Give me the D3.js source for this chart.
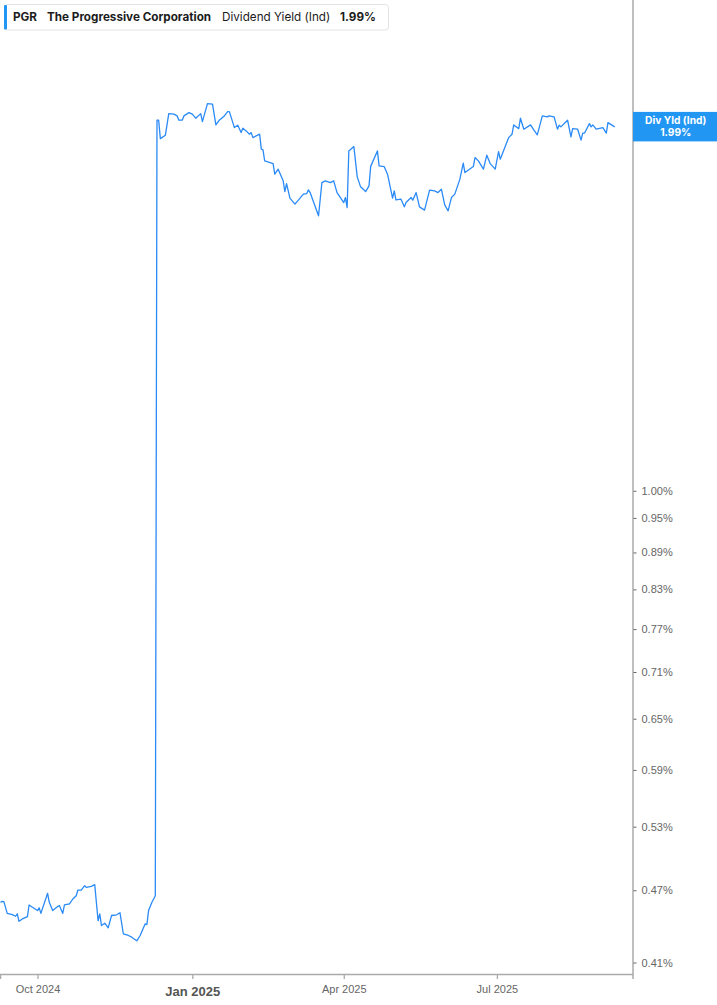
<!DOCTYPE html>
<html>
<head>
<meta charset="utf-8">
<script src="https://cdn.jsdelivr.net/npm/d3@7"></script>
<style>
  html, body { margin: 0; padding: 0; background: #fff; }
  svg { display: block; font-family: Inter, "Noto Sans", sans-serif; }
</style>
</head>
<body>
<div id="chart"></div>
<script>
// dates and dividend yield (%)
const dates = [
  "2024-09-09","2024-09-10","2024-09-11","2024-09-13","2024-09-16","2024-09-18","2024-09-19","2024-09-20",
  "2024-09-22","2024-09-25","2024-09-26","2024-09-28","2024-10-01","2024-10-02","2024-10-03","2024-10-07",
  "2024-10-08","2024-10-10","2024-10-13","2024-10-14","2024-10-16","2024-10-17","2024-10-20","2024-10-22",
  "2024-10-24","2024-10-25","2024-10-27","2024-10-29","2024-10-30","2024-11-02","2024-11-04","2024-11-06",
  "2024-11-07","2024-11-08","2024-11-10","2024-11-12","2024-11-14","2024-11-17","2024-11-19","2024-11-21",
  "2024-11-24","2024-11-26","2024-11-27","2024-11-29","2024-12-01","2024-12-04","2024-12-05","2024-12-06",
  "2024-12-08","2024-12-10","2024-12-11","2024-12-12","2024-12-13","2024-12-16","2024-12-18","2024-12-21",
  "2024-12-23","2024-12-24","2024-12-26","2024-12-27","2024-12-30","2025-01-01","2025-01-03","2025-01-06",
  "2025-01-07","2025-01-10","2025-01-13","2025-01-15","2025-01-17","2025-01-20","2025-01-22","2025-01-23",
  "2025-01-26","2025-01-28","2025-01-30","2025-01-31","2025-02-02","2025-02-04","2025-02-05","2025-02-06",
  "2025-02-10","2025-02-11","2025-02-12","2025-02-13","2025-02-18","2025-02-19","2025-02-21","2025-02-24",
  "2025-02-25","2025-02-26","2025-02-28","2025-03-03","2025-03-06","2025-03-08","2025-03-10","2025-03-11",
  "2025-03-12","2025-03-17","2025-03-19","2025-03-21","2025-03-24","2025-03-26","2025-03-28","2025-04-01",
  "2025-04-02","2025-04-03","2025-04-04","2025-04-07","2025-04-09","2025-04-11","2025-04-14","2025-04-16",
  "2025-04-17","2025-04-21","2025-04-22","2025-04-25","2025-04-27","2025-04-30","2025-05-01","2025-05-02",
  "2025-05-05","2025-05-07","2025-05-08","2025-05-11","2025-05-12","2025-05-14","2025-05-16","2025-05-19",
  "2025-05-22","2025-05-25","2025-05-27","2025-05-29","2025-05-31","2025-06-02","2025-06-04","2025-06-06",
  "2025-06-09","2025-06-11","2025-06-12","2025-06-17","2025-06-18","2025-06-20","2025-06-23","2025-06-25",
  "2025-06-27","2025-06-30","2025-07-02","2025-07-03","2025-07-08","2025-07-10","2025-07-11","2025-07-14",
  "2025-07-15","2025-07-17","2025-07-21","2025-07-23","2025-07-25","2025-07-28","2025-07-31","2025-08-01",
  "2025-08-04","2025-08-06","2025-08-07","2025-08-08","2025-08-12","2025-08-14","2025-08-15","2025-08-18",
  "2025-08-20","2025-08-21","2025-08-22","2025-08-25","2025-08-26","2025-08-27","2025-08-29","2025-09-02",
  "2025-09-04","2025-09-05","2025-09-09"
];

const yields = [
  0.4594,0.4603,0.4600,0.4499,0.4489,0.4475,0.4495,0.4432,
  0.4452,0.4472,0.4571,0.4551,0.4523,0.4546,0.4499,0.4673,
  0.4594,0.4523,0.4557,0.4566,0.4499,0.4571,0.4580,0.4623,
  0.4652,0.4702,0.4702,0.4741,0.4726,0.4735,0.4750,0.4437,
  0.4495,0.4397,0.4416,0.4378,0.4481,0.4487,0.4505,0.4329,
  0.4315,0.4301,0.4291,0.4272,0.4315,0.4411,0.4405,0.4523,
  0.4594,0.4652,2.0146,2.0146,1.9458,1.9584,2.0399,2.0376,
  2.0311,2.0146,2.0146,2.0311,2.0438,2.0376,2.0223,2.0399,
  2.0093,2.0788,2.0765,1.9968,2.0146,2.0311,2.0476,2.0476,
  1.9867,1.9957,1.9680,1.9844,1.9743,1.9621,1.9680,1.9495,
  1.9621,1.9073,1.9047,1.8655,1.8561,1.8193,1.8366,1.7964,
  1.7604,1.7873,1.7386,1.7190,1.7386,1.7518,1.7538,1.7661,
  1.7571,1.6815,1.7906,1.7964,1.7906,1.7964,1.7571,1.7242,
  1.7406,1.7080,1.9011,1.9166,1.8100,1.7762,1.7604,1.7795,
  1.8463,1.9011,1.8480,1.8456,1.8193,1.7386,1.7628,1.7331,
  1.7354,1.7103,1.7242,1.7406,1.7321,1.7571,1.7103,1.6997,
  1.7651,1.7628,1.7571,1.7684,1.7168,1.6974,1.7406,1.7518,
  1.8022,1.8575,1.8248,1.8456,1.8772,1.8655,1.8366,1.8858,
  1.8561,1.8366,1.8986,1.8716,1.9495,1.9621,1.9968,1.9829,
  2.0223,1.9807,1.9968,1.9769,1.9595,2.0311,2.0272,2.0311,
  2.0272,1.9807,1.9957,1.9893,2.0146,1.9521,1.9829,1.9807,
  1.9400,1.9658,1.9658,2.0017,1.9893,1.9968,1.9807,1.9867,
  1.9658,2.0055,1.9893
];

const yTicks = [1.00, 0.95, 0.89, 0.83, 0.77, 0.71, 0.65, 0.59, 0.53, 0.47, 0.41];
const xTickDates = ["2024-10-01", "2025-01-01", "2025-04-01", "2025-07-01"];
const xTickLabels = ["Oct 2024", "Jan 2025", "Apr 2025", "Jul 2025"];

const ticker = "PGR";
const company = "The Progressive Corporation";
const metric = "Dividend Yield (Ind)";
const lastValue = "1.99%";

const w = 717;
const h = 1005;
const plotRight = 632.5;
const plotBottom = 974;

const parse = d3.timeParse("%Y-%m-%d");
const data = dates.map((d, i) => ({ date: parse(d), v: yields[i] }));

const svg = d3.select("#chart")
  .append("svg")
  .attr("width", w)
  .attr("height", h);

const xScale = d3.scaleTime()
  .domain([new Date(2024, 8, 8, 17), new Date(2025, 8, 19, 14)])
  .range([0, plotRight]);

const yScale = d3.scaleLog()
  .domain([0.4012, 2.5285])
  .range([plotBottom, 0]);

// line
const line = d3.line()
  .x(d => xScale(d.date))
  .y(d => yScale(d.v));

svg.append("path")
  .datum(data)
  .attr("fill", "none")
  .attr("stroke", "#2a8af6")
  .attr("stroke-width", 1.3)
  .attr("stroke-linejoin", "round")
  .attr("d", line);

// bottom axis
const xAxis = d3.axisBottom(xScale)
  .tickValues(xTickDates.map(parse))
  .tickSize(5)
  .tickFormat((d, i) => xTickLabels[i]);

const gx = svg.append("g")
  .attr("transform", `translate(0, ${plotBottom})`)
  .call(xAxis);
gx.select(".domain").attr("stroke", "#aaa").attr("stroke-width", 1.5);
gx.selectAll(".tick line").attr("stroke", "#aaa").attr("stroke-width", 1.3);
gx.selectAll(".tick text")
  .attr("fill", "#666")
  .attr("font-size", 11)
  .attr("font-weight", 500)
  .attr("dy", "0.7em")
  .attr("y", 11);
gx.selectAll(".tick text")
  .filter((d, i) => i === 1)
  .attr("font-size", 13)
  .attr("font-weight", 700)
  .attr("fill", "#555")
  .attr("y", 13);

// right axis
const yAxis = d3.axisRight(yScale)
  .tickValues(yTicks)
  .tickSize(3)
  .tickFormat(d => d3.format(".2f")(d) + "%");

const gy = svg.append("g")
  .attr("transform", `translate(${plotRight}, 0)`)
  .call(yAxis);
gy.select(".domain")
  .attr("d", `M0.5,0V${plotBottom}`)
  .attr("stroke", "#aaa")
  .attr("stroke-width", 1.5);
gy.selectAll(".tick line").attr("stroke", "#666").attr("x1", 1).attr("x2", 4);
gy.selectAll(".tick text")
  .attr("x", 9)
  .attr("fill", "#666")
  .attr("font-size", 11);

// last value tag
const tagY = yScale(yields[yields.length - 1]);
svg.append("rect")
  .attr("x", plotRight + 0.5)
  .attr("y", tagY - 15)
  .attr("width", w - plotRight)
  .attr("height", 29.5)
  .attr("fill", "#2196f3");
const tagLines = ["Div Yld (Ind)", lastValue];
svg.selectAll("text.tag")
  .data(tagLines)
  .enter()
  .append("text")
  .attr("class", "tag")
  .attr("x", (plotRight + w) / 2 + 1)
  .attr("y", (d, i) => tagY - 5.5 + i * 11.5)
  .attr("text-anchor", "middle")
  .attr("dominant-baseline", "middle")
  .attr("fill", "#fff")
  .attr("font-size", 10.2)
  .attr("font-weight", 700)
  .text(d => d);

// header legend
const header = svg.append("g");
header.append("rect")
  .attr("x", 4.5)
  .attr("y", 4.5)
  .attr("width", 384)
  .attr("height", 25.5)
  .attr("rx", 3)
  .attr("fill", "#fff")
  .attr("stroke", "#e3e3e3");
header.append("rect")
  .attr("x", 4)
  .attr("y", 5)
  .attr("width", 3)
  .attr("height", 24.5)
  .attr("rx", 1)
  .attr("fill", "#2196f3");

const headerParts = [
  { text: ticker, x: 13, weight: 700 },
  { text: company, x: 47, weight: 700 },
  { text: metric, x: 222, weight: 400 },
  { text: lastValue, x: 340, weight: 700 }
];
header.selectAll("text.hdr")
  .data(headerParts)
  .enter()
  .append("text")
  .attr("class", "hdr")
  .attr("x", d => d.x)
  .attr("y", 17.5)
  .attr("dominant-baseline", "middle")
  .attr("font-size", 11.7)
  .attr("font-weight", d => d.weight)
  .attr("fill", "#1c1c1c")
  .text(d => d.text);
</script>
</body>
</html>
